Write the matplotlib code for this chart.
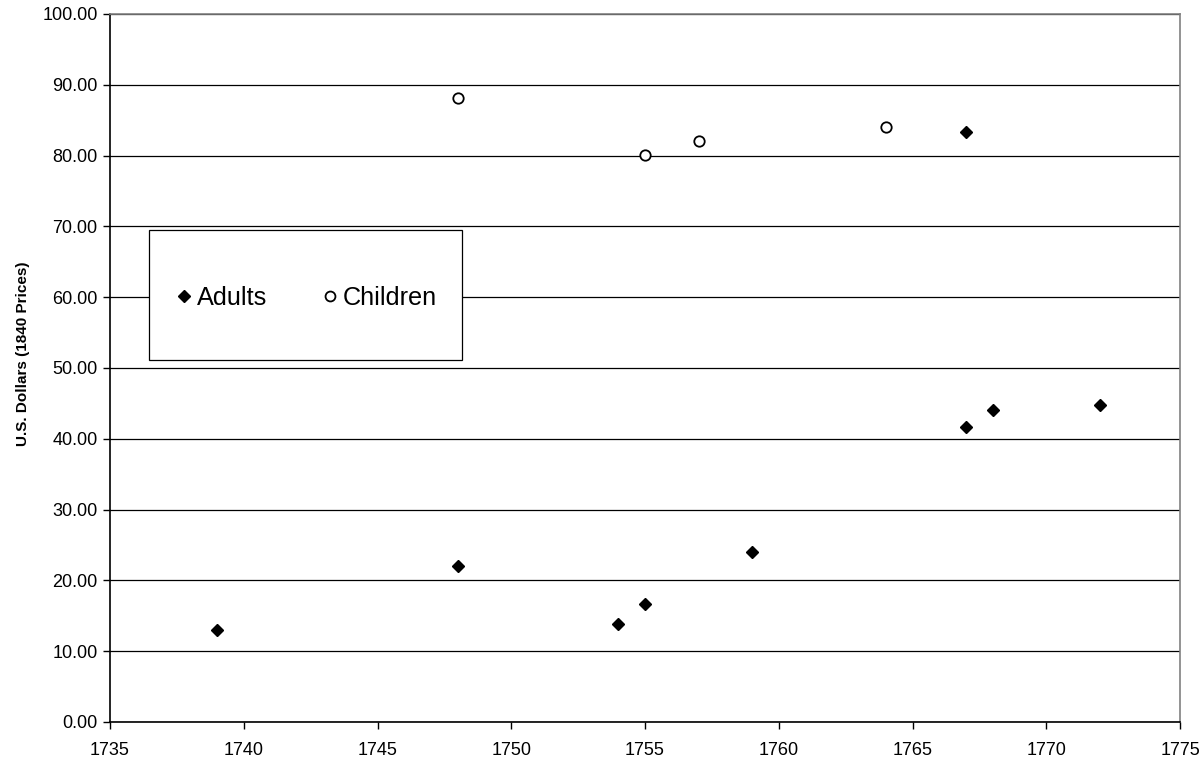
import matplotlib
matplotlib.use("Agg")
import matplotlib.pyplot as plt
from matplotlib.patches import Rectangle
import numpy as np

plt.rcParams["font.family"] = ["Liberation Sans", "DejaVu Sans"]

# data
adult_years = [1739, 1748, 1754, 1755, 1759, 1767, 1767, 1768, 1772]
adult_prices = [13.0, 22.0, 13.9, 16.7, 24.0, 83.4, 41.7, 44.0, 44.8]
child_years = [1748, 1755, 1757, 1764]
child_prices = [88.1, 80.1, 82.1, 84.1]

x_ticks = np.arange(1735, 1776, 5)
y_ticks = np.arange(0, 101, 10)

fig = plt.figure(figsize=(12.02, 7.61), dpi=100)
ax = fig.add_axes([110 / 1202, 1 - 722 / 761, 1070 / 1202, 708 / 761])

ax.set_xlim(1735, 1775)
ax.set_ylim(0, 100)
ax.set_yticks(y_ticks)
ax.set_yticklabels([f"{v:.2f}" for v in y_ticks])
ax.set_xticks(x_ticks)
ax.set_xticklabels([str(v) for v in x_ticks])
ax.tick_params(axis="both", labelsize=13, length=5, width=1, color="black",
               direction="out")
ax.tick_params(axis="x", pad=9.5)
ax.tick_params(axis="y", pad=4)

# horizontal gridlines in black, like the spreadsheet original
ax.grid(True, axis="y", color="black", linewidth=0.9)
ax.set_axisbelow(True)

for side in ["top", "right"]:
    ax.spines[side].set_color("#808080")
    ax.spines[side].set_linewidth(1.2)
for side in ["left", "bottom"]:
    ax.spines[side].set_color("black")
    ax.spines[side].set_linewidth(1.2)

ax.plot(adult_years, adult_prices, linestyle="none", marker="D", markersize=6.6,
        color="black", label="Adults", zorder=3)
ax.plot(child_years, child_prices, linestyle="none", marker="o", markersize=7.5,
        markerfacecolor="white", markeredgecolor="black", markeredgewidth=1.3,
        label="Children", zorder=3)

ax.set_ylabel("U.S. Dollars (1840 Prices)", fontsize=11, fontweight="bold")
ax.yaxis.set_label_coords(-0.0745, 0.52)

# legend box drawn by hand so it can be taller than its content
box_x0, box_y0, box_w, box_h = 0.036, 0.512, 0.293, 0.183
ax.add_patch(Rectangle((box_x0, box_y0), box_w, box_h, transform=ax.transAxes,
                       facecolor="white", edgecolor="black", linewidth=0.9,
                       zorder=4))
leg = ax.legend(loc="center", bbox_to_anchor=(box_x0 + box_w / 2 + 0.0025,
                                              box_y0 + box_h / 2 - 0.005),
                ncol=2, frameon=False, fontsize=18.2, handlelength=0.4,
                handletextpad=0.32, columnspacing=2.25, markerscale=0.95,
                borderpad=0, borderaxespad=0)
leg.set_zorder(5)

fig.savefig("out.png", dpi=100, facecolor="white")
